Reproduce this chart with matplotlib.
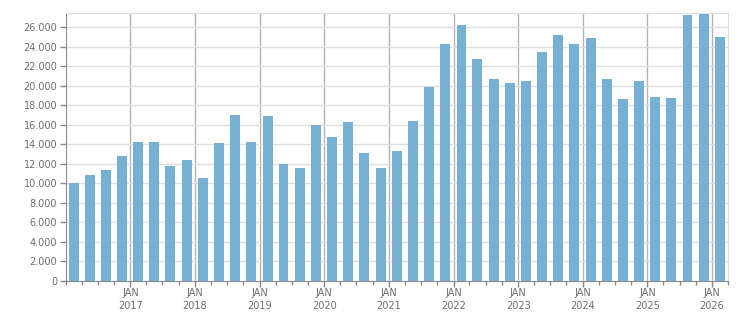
import matplotlib
matplotlib.use("Agg")
import matplotlib.pyplot as plt
import matplotlib.dates as mdates
from matplotlib.ticker import FuncFormatter
import pandas as pd

# quarterly values, Q1 2016 .. Q1 2026
quarters = pd.period_range("2016Q1", "2026Q1", freq="Q")
values = [10020, 10840, 11360, 12790, 14230, 14230, 11770, 12380, 10540, 14130,
          17000, 14230, 16900, 11970, 11560, 15970, 14740, 16280, 13100, 11560,
          13310, 16380, 19870, 24290, 26240, 22750, 20690, 20280, 20490, 23470,
          25210, 24290, 24900, 20690, 18640, 20490, 18850, 18740, 27260, 27360,
          25000]
year_ticks = list(range(2017, 2027))

bar_color = "#78b0d3"
text_color = "#6e6e6e"

starts = quarters.start_time
centers = starts + pd.Timedelta(days=45)

fig = plt.figure(figsize=(7.51, 3.13), dpi=100)
ax = fig.add_axes([65.7 / 751, (313 - 280.7) / 313, (728 - 65.7) / 751, (280.7 - 13.3) / 313])

ax.bar(centers, values, width=56, color=bar_color, zorder=3)

ax.set_xlim(pd.Timestamp("2016-01-01"), pd.Timestamp("2026-04-01"))
ax.set_ylim(0, 27440)

# y axis
ax.set_yticks(range(0, 26001, 2000))
ax.yaxis.set_major_formatter(FuncFormatter(lambda v, p: f"{int(v):,}".replace(",", ".")))
ax.grid(axis="y", color="#dedede", lw=1, zorder=0)

# x axis: year lines + quarter ticks
ax.set_xticks([pd.Timestamp(f"{y}-01-01") for y in year_ticks])
ax.set_xticklabels([f"JAN\n{y}" for y in year_ticks])
ax.xaxis.set_minor_locator(mdates.MonthLocator(bymonth=[1, 4, 7, 10]))
ax.grid(axis="x", which="major", color="#b4b4b4", lw=1, zorder=1)

ax.tick_params(axis="both", which="major", labelsize=7, colors="#888888",
               labelcolor=text_color, length=4, width=1, pad=2)
ax.tick_params(axis="x", which="minor", colors="#888888", length=3, width=1)
ax.tick_params(axis="x", which="major", pad=1)
for lbl in ax.get_xticklabels():
    lbl.set_linespacing(1.4)

for side in ["left", "bottom"]:
    ax.spines[side].set_color("#8c8c8c")
for side in ["top", "right"]:
    ax.spines[side].set_color("#dedede")

fig.savefig("out.png", dpi=100)
